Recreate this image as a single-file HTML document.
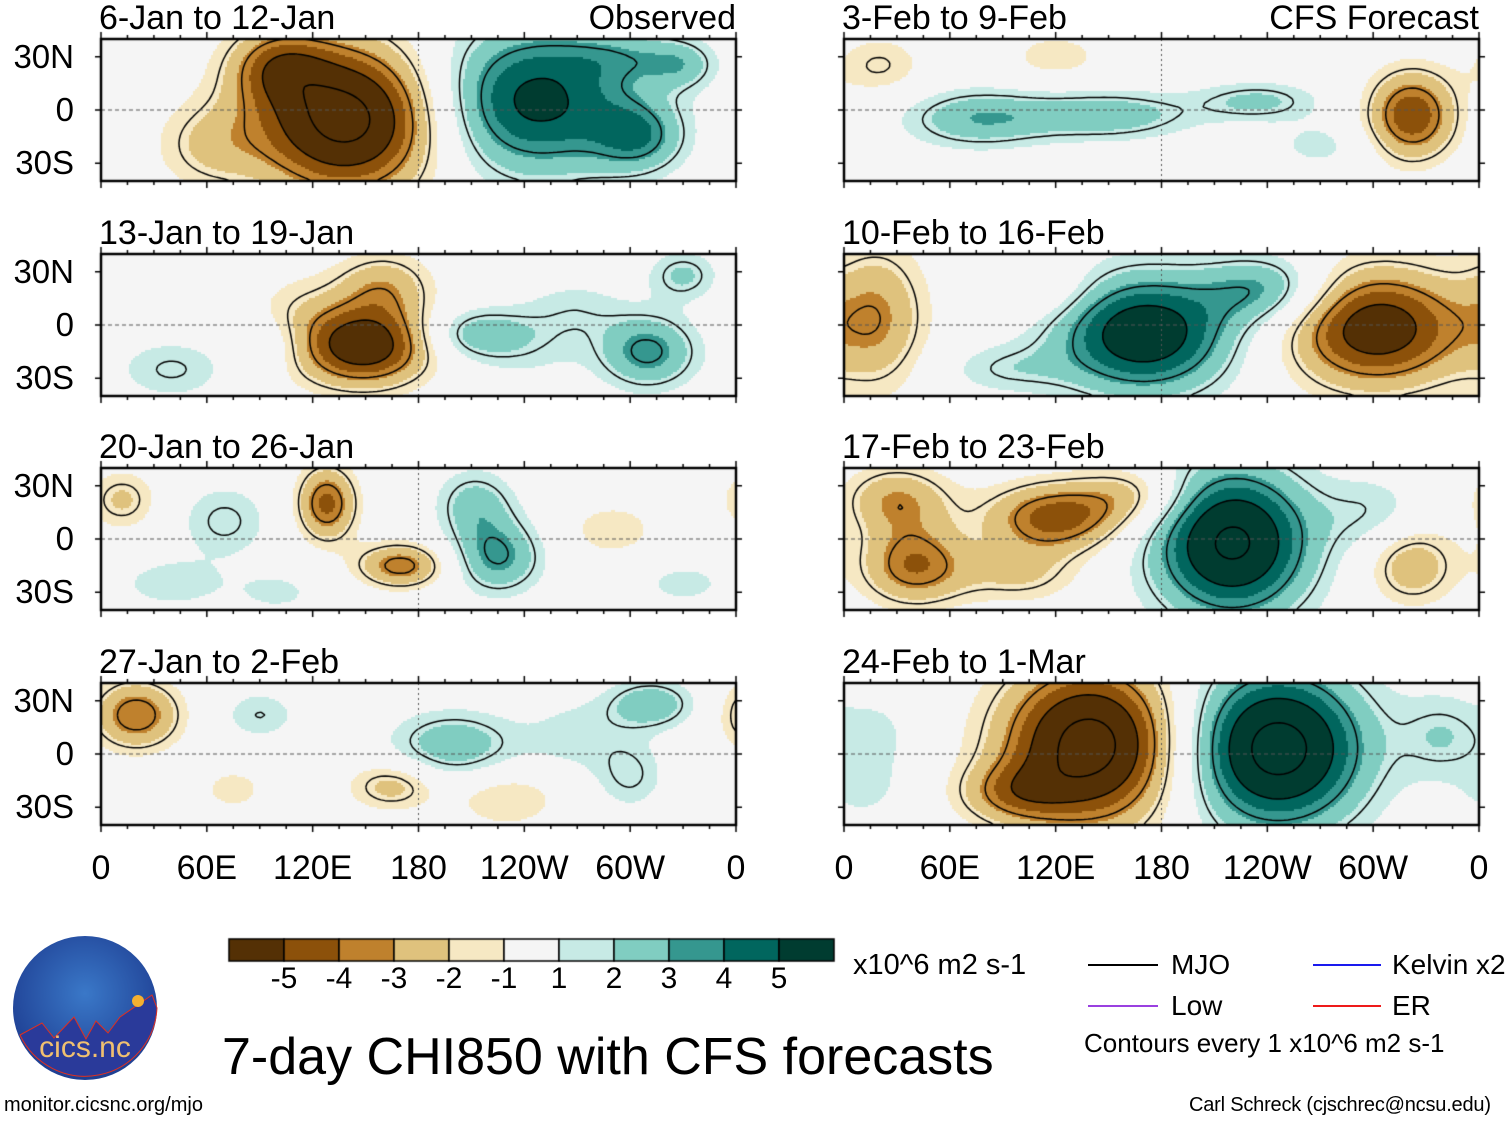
<!DOCTYPE html>
<html><head><meta charset="utf-8">
<style>
body{margin:0;background:#fff;width:1510px;height:1121px;position:relative;overflow:hidden;font-family:"Liberation Sans",sans-serif;}
.t{position:absolute;white-space:nowrap;color:#000;line-height:1;}
canvas{position:absolute;left:0;top:0;}
</style></head>
<body>
<canvas id="cv" width="1510" height="1121"></canvas>
<div id="txt"></div>

<svg style="position:absolute;left:12px;top:935px" width="146" height="146">
<defs><radialGradient id="lg" cx="50%" cy="40%" r="60%"><stop offset="0" stop-color="#3a78c8"/><stop offset="1" stop-color="#1e3e92"/></radialGradient></defs>
<circle cx="73" cy="73" r="72" fill="url(#lg)"/>
<path d="M8,100 L30,88 L42,103 L62,82 L74,104 L84,86 L96,98 L108,82 L140,60 L145,73 A72,72 0 0 1 8,100Z" fill="#2a3a9a" stroke="#e03020" stroke-width="1"/>
<circle cx="126" cy="66" r="6" fill="#f5b030"/>
<text x="73" y="122" text-anchor="middle" font-family="Liberation Sans" font-size="30" fill="#f0c070">cics.nc</text>
</svg>
<div class="t" style="left:4px;top:1095px;font-size:20px">monitor.cicsnc.org/mjo</div>
<div class="t" style="left:1189px;top:1095px;font-size:20px;letter-spacing:-0.2px">Carl Schreck (cjschrec@ncsu.edu)</div>
<div class="t" style="left:222px;top:1031px;font-size:52px">7-day CHI850 with CFS forecasts</div>
<div class="t" style="left:853px;top:951px;font-size:29px">x10^6 m2 s-1</div>

<div>
<div style="position:absolute;left:1088px;top:964px;width:70px;height:2px;background:#000"></div>
<div class="t" style="left:1171px;top:951px;font-size:28px">MJO</div>
<div style="position:absolute;left:1313px;top:964px;width:68px;height:2px;background:#1a1aee"></div>
<div class="t" style="left:1392px;top:951px;font-size:28px">Kelvin x2</div>
<div style="position:absolute;left:1088px;top:1005px;width:70px;height:2px;background:#9a40e0"></div>
<div class="t" style="left:1171px;top:992px;font-size:28px">Low</div>
<div style="position:absolute;left:1313px;top:1005px;width:68px;height:2px;background:#ee1a1a"></div>
<div class="t" style="left:1392px;top:992px;font-size:28px">ER</div>
<div class="t" style="left:1084px;top:1030px;font-size:26px">Contours every 1 x10^6 m2 s-1</div>
</div>

<script>
const colors=["#543005","#8c510a","#bf812d","#dfc27d","#f6e8c3","#f5f5f5","#c7eae5","#80cdc1","#35978f","#01665e","#003c30"];
const bounds=[-5,-4,-3,-2,-1,1,2,3,4,5];
const cbLabels=["-5","-4","-3","-2","-1","1","2","3","4","5"];
const lonTicks=["0","60E","120E","180","120W","60W","0"];
const latTicks=["30N","0","30S"];
const titles=["6-Jan to 12-Jan","13-Jan to 19-Jan","20-Jan to 26-Jan","27-Jan to 2-Feb","3-Feb to 9-Feb","10-Feb to 16-Feb","17-Feb to 23-Feb","24-Feb to 1-Mar"];
// blobs: [lon, lat, amplitude, sigmaLon, sigmaLat]
const blobs0=[[140,-5,-7.5,38,30],[100,25,-3,20,15],[245,5,5.5,42,30],[305,-15,3,18,14],[60,-20,-1.8,22,18],[330,25,1.8,14,10],[300,30,1.5,25,10]];
const blobs1=[[150,-12,-6,26,16],[160,22,-2.6,20,14],[110,0,-1.6,20,20],[210,-5,2.2,20,10],[240,-10,1.4,25,15],[310,-15,3.6,20,15],[40,-25,1.8,22,12],[330,28,2.2,14,10],[100,-10,1.6,16,12],[270,10,1.2,20,12]];
const blobs2=[[128,20,-4.3,12,15],[170,-15,-3.8,18,9],[225,-10,3.4,18,15],[212,20,2.4,16,14],[70,10,1.9,18,15],[12,22,-2.2,14,12],[290,5,-1.5,20,12],[40,-25,1.6,20,10],[330,-25,1.3,20,10],[100,-30,1.2,20,10]];
const blobs3=[[20,22,-4,18,14],[200,5,2.8,26,14],[312,28,2.8,18,10],[165,-18,-2.5,18,10],[230,-25,-1.8,22,12],[300,-12,1.8,14,14],[75,-20,-1.6,12,8],[90,22,1.7,15,10],[270,10,1.4,20,15]];
const blobs4=[[75,-5,2.8,30,12],[150,-3,2.7,35,10],[235,5,2.2,25,8],[322,-3,-4.8,18,18],[20,25,-1.8,18,12],[120,30,-1.5,20,10],[270,-20,1.3,20,10]];
const blobs5=[[170,-5,6.2,36,24],[240,20,3.2,25,14],[302,-2,-6,36,24],[20,5,-2.8,20,30],[110,20,-1.6,22,12],[90,-25,1.5,25,10]];
const blobs6=[[220,-2,7,32,30],[120,12,-4.5,28,14],[40,-15,-4,22,16],[322,-15,-2.8,18,16],[30,22,-3,22,14],[165,25,-2.2,22,12],[100,-20,-2,24,12],[300,15,1.5,20,15]];
const blobs7=[[140,5,-7.5,36,32],[245,3,7.5,36,32],[95,-22,-2.5,22,12],[340,10,1.8,18,18],[20,10,1.2,16,18],[10,-20,1.2,15,12]];
const allBlobs=[blobs0,blobs1,blobs2,blobs3,blobs4,blobs5,blobs6,blobs7];

const cv=document.getElementById('cv'),ctx=cv.getContext('2d');
const PW=635,PH=142, colX=[101,844], rowY=[39,254,468,683];
function origin(i){return [colX[i<4?0:1], rowY[i%4]];}
function xs(x0,lon){return x0+lon/360*PW;}
function ys(y0,lat){return y0+(40-lat)/80*PH;}
function field(b,lon,lat){let v=0;for(const [bl,bt,a,sx,sy] of b){let d=lon-bl;if(d>180)d-=360;if(d<-180)d+=360;v+=a*Math.exp(-(d*d)/(2*sx*sx)-((lat-bt)*(lat-bt))/(2*sy*sy));}return v;}
function level(v){let k=0;while(k<bounds.length&&v>=bounds[k])k++;return k;}

const txt=document.getElementById('txt');
function addText(s,l,t,fs,name,anchor){const d=document.createElement('div');d.className='t';d.textContent=s;d.style.fontSize=fs+'px';d.style.top=t+'px';
 if(anchor==='r'){d.style.left='auto';d.style.right=(1510-l)+'px';}else if(anchor==='c'){d.style.left=l+'px';d.style.transform='translateX(-50%)';}else d.style.left=l+'px';
 
 
 txt.appendChild(d);}

allBlobs.forEach((b,i)=>{
 const [x0,y0]=origin(i); const step=2;
 for(let px=0;px<PW;px+=step)for(let py=0;py<PH;py+=step){
  const lon=(px+step/2)/PW*360, lat=40-(py+step/2)/PH*80;
  ctx.fillStyle=colors[level(field(b,lon,lat))];
  ctx.fillRect(x0+px,y0+py,Math.min(step,PW-px),Math.min(step,PH-py));
 }
 const g=4,nx=Math.ceil(PW/g)+1,ny=Math.ceil(PH/g)+1;const F=[];
 for(let j=0;j<ny;j++){F[j]=[];for(let k=0;k<nx;k++)F[j][k]=0.6*field(b,Math.min(k*g,PW)/PW*360,40-Math.min(j*g,PH)/PH*80);}
 ctx.save();ctx.beginPath();ctx.rect(x0,y0,PW,PH);ctx.clip();
 ctx.strokeStyle='#000';ctx.lineWidth=1.5;
 [-5,-4,-3,-2,-1,1,2,3,4,5].forEach(L=>{
  ctx.setLineDash(L<0?[6,4]:[]);ctx.beginPath();
  for(let j=0;j<ny-1;j++)for(let k=0;k<nx-1;k++){
   const v=[F[j][k],F[j][k+1],F[j+1][k+1],F[j+1][k]];
   const p=[[k,j],[k+1,j],[k+1,j+1],[k,j+1]];const pts=[];
   for(let e=0;e<4;e++){const a=v[e],c=v[(e+1)%4];if((a-L)*(c-L)<0){const t=(L-a)/(c-a);pts.push([p[e][0]+t*(p[(e+1)%4][0]-p[e][0]),p[e][1]+t*(p[(e+1)%4][1]-p[e][1])]);}}
   for(let q=0;q+1<pts.length;q+=2){ctx.moveTo(x0+pts[q][0]*g,y0+pts[q][1]*g);ctx.lineTo(x0+pts[q+1][0]*g,y0+pts[q+1][1]*g);}
  }
  ctx.stroke();});
 ctx.restore();
 ctx.setLineDash([4,3]);ctx.strokeStyle='#555';ctx.lineWidth=1;
 ctx.beginPath();ctx.moveTo(x0,ys(y0,0));ctx.lineTo(x0+PW,ys(y0,0));ctx.stroke();
 ctx.setLineDash([2,3]);ctx.beginPath();ctx.moveTo(xs(x0,180),y0);ctx.lineTo(xs(x0,180),y0+PH);ctx.stroke();
 ctx.setLineDash([]);
 ctx.strokeStyle='#000';ctx.lineWidth=2.5;ctx.strokeRect(x0,y0,PW,PH);
 ctx.lineWidth=1.5;
 for(let lon=0;lon<=360;lon+=15){const x=xs(x0,lon),len=lon%60===0?7:4;ctx.beginPath();ctx.moveTo(x,y0+PH);ctx.lineTo(x,y0+PH+len);ctx.moveTo(x,y0);ctx.lineTo(x,y0-len);ctx.stroke();}
 for(let lat=-30;lat<=30;lat+=30){const y=ys(y0,lat);ctx.beginPath();ctx.moveTo(x0,y);ctx.lineTo(x0-6,y);ctx.moveTo(x0+PW,y);ctx.lineTo(x0+PW+6,y);ctx.stroke();}
 addText(titles[i],x0-2,y0-38,34,'panel-title-'+(i+1),'l');
 if(i===0)addText('Observed',x0+PW,y0-38,34,'observed-label','r');
 if(i===4)addText('CFS Forecast',x0+PW,y0-38,34,'cfs-forecast-label','r');
 if(i<4){latTicks.forEach((s,k)=>addText(s,74,ys(y0,30-30*k)-17,33,'lat-label-'+s+'-row'+(i+1),'r'));}
});
[0,1].forEach(c=>{lonTicks.forEach((s,k)=>addText(s,xs(colX[c],k*60),851,34,'lon-label-'+s+'-col'+(c+1),'c'));});
const cbX=229,cbY=939,cbW=55,cbH=22;
colors.forEach((c,k)=>{ctx.fillStyle=c;ctx.fillRect(cbX+k*cbW,cbY,cbW,cbH);ctx.strokeStyle='#000';ctx.lineWidth=1.5;ctx.strokeRect(cbX+k*cbW,cbY,cbW,cbH);});
cbLabels.forEach((s,k)=>addText(s,cbX+(k+1)*cbW,964,30,'colorbar-label-'+s,'c'));
</script>
</body></html>
